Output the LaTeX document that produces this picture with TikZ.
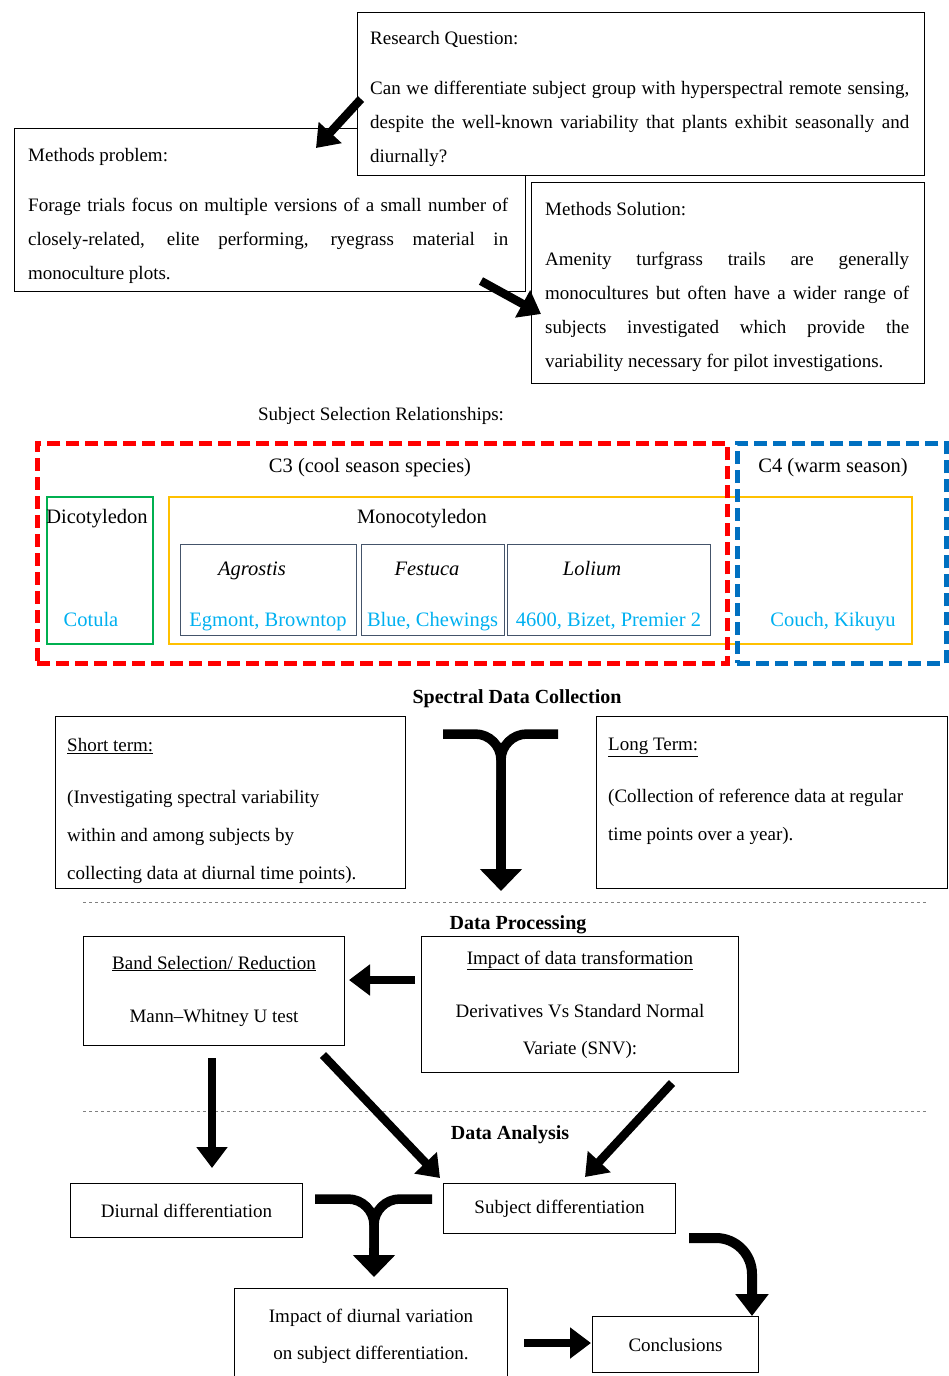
\documentclass[tikz,border=0pt]{standalone}
\usepackage{fontspec}
\setmainfont{Liberation Serif}
\usetikzlibrary{arrows.meta}

\definecolor{cthree}{HTML}{FF0000}
\definecolor{cfour}{HTML}{0070C0}
\definecolor{dicot}{HTML}{00B050}
\definecolor{monocot}{HTML}{FFC000}
\definecolor{genusline}{HTML}{44546A}
\definecolor{cultivar}{HTML}{00B0F0}

\begin{document}
\begin{tikzpicture}[x=1pt, y=-1pt,
    font=\fontsize{19}{34}\selectfont,
    box/.style={draw, line width=1pt, fill=white, anchor=north west, inner sep=0pt},
    txt/.style={anchor=north west, inner sep=0pt},
    head/.style={font=\fontsize{20}{24}\selectfont\bfseries},
    sel/.style={font=\fontsize{20.5}{24}\selectfont, anchor=base},
    group/.style={draw=#1, line width=4.5pt, dash pattern=on 13pt off 6pt, anchor=north west, inner sep=0pt},
    kind/.style={draw=#1, line width=2pt, anchor=north west, inner sep=0pt},
    fat/.style={line width=9.5pt, rounded corners=26pt},
    fatarrow/.style={line width=8.5pt, -{Triangle[length=21pt, width=30pt]}},
    forkarrow/.style={line width=9.5pt, -{Triangle[length=22pt, width=41pt]}},
    sep/.style={gray, dashed, line width=0.8pt}]
    \useasboundingbox (0,0) rectangle (948,1376);

    \node[box, minimum width=511pt, minimum height=163pt] (mpbox) at (14,128) {};
    \node[box, minimum width=567pt, minimum height=163pt] (rqbox) at (357,12) {};
    \node[box, minimum width=393pt, minimum height=201pt] (solbox) at (531,182) {};
    \node[txt, text width=539pt, align=justify] (rqtext) at (370,31)
        {Research Question:\\[16pt]
        Can we differentiate subject group with hyperspectral remote sensing,\linebreak
        despite the well-known variability that plants exhibit seasonally and\linebreak
        diurnally?};
    \node[txt, text width=480pt, align=justify] (mptext) at (28,148)
        {Methods problem:\\[16pt]
        Forage trials focus on multiple versions of a small number of\linebreak
        closely-related, elite performing, ryegrass material in\linebreak
        monoculture plots.};
    \node[txt, text width=364pt, align=justify] (soltext) at (545,202)
        {Methods Solution:\\[16pt]
        Amenity turfgrass trails are generally\linebreak
        monocultures but often have a wider range of\linebreak
        subjects investigated which provide the\linebreak
        variability necessary for pilot investigations.};
    \coordinate (rqout) at (361,99);
    \coordinate (mpin) at (316,148);
    \coordinate (mpout) at (481,281);
    \coordinate (solin) at (541,314);
    \draw[fatarrow] (rqout) -- (mpin);
    \draw[fatarrow] (mpout) -- (solin);

    \node (selhead) at (381,416) {Subject Selection Relationships:};
    \node[kind=dicot, minimum width=106pt, minimum height=147pt] (dicotbox) at (46,496) {};
    \node[kind=monocot, minimum width=743pt, minimum height=147pt] (monobox) at (168,496) {};
    \node[group=cthree, minimum width=690pt, minimum height=220pt] (cthreebox) at (35,441) {};
    \node[group=cfour, minimum width=209pt, minimum height=220pt] (cfourbox) at (735,441) {};
    \node[sel] (cthreelbl) at (370,472) {C3 (cool season species)};
    \node[sel] (cfourlbl) at (833,472) {C4 (warm season)};
    \node[sel] (dicotlbl) at (97,523) {Dicotyledon};
    \node[sel] (monolbl) at (422,523) {Monocotyledon};
    \node[sel, text=cultivar] (cotula) at (91,626) {Cotula};
    \node[sel, text=cultivar] (couch) at (833,626) {Couch, Kikuyu};
    \foreach \x/\w/\gx/\genus/\names in {180/176/252/Agrostis/{Egmont, Browntop},
        361/143/427/Festuca/{Blue, Chewings}, 507/203/592/Lolium/{4600, Bizet, Premier 2}} {
        \node[draw=genusline, line width=1.2pt, anchor=north west, minimum width=\w pt,
            minimum height=91pt] (box-\genus) at (\x,544) {};
        \node[sel] (lbl-\genus) at (\gx,575) {\itshape\genus};
        \node[sel, text=cultivar] (cv-\genus) at (\x+\w/2,626) {\names};
    }

    \node[head] (spechead) at (517,699) {Spectral Data Collection};
    \node[box, minimum width=350pt, minimum height=172pt] (shortbox) at (55,716) {};
    \node[box, minimum width=351pt, minimum height=172pt] (longbox) at (596,716) {};
    \node[txt, font=\fontsize{19}{38}\selectfont, align=left] (shorttext) at (67,738)
        {\underline{Short term:}\\[14pt]
        (Investigating spectral variability\\
        within and among subjects by\\
        collecting data at diurnal time points).};
    \node[txt, font=\fontsize{19}{38}\selectfont, align=left] (longtext) at (608,738)
        {\underline{Long Term:}\\[14pt]
        (Collection of reference data at regular\\
        time points over a year).};
    \coordinate (specl) at (443,734);
    \coordinate (specr) at (558,734);
    \coordinate (specj) at (501,790);
    \coordinate (spect) at (501,891);
    \draw[fat] (specl) -| (specj);
    \draw[fat] (specr) -| (specj);
    \draw[forkarrow] (specj) -- (spect);

    \draw[sep] (83,902) -- (928,902);
    \node[head] (prochead) at (518,925) {Data Processing};
    \node[box, minimum width=261pt, minimum height=109pt, align=center] (bandbox) at (83,936)
        {\underline{Band Selection/ Reduction}\\[19pt]Mann–Whitney U test};
    \node[box, minimum width=317pt, minimum height=136pt, align=center,
        font=\fontsize{19}{37}\selectfont] (transbox) at (421,936)
        {\underline{Impact of data transformation}\\[16pt]Derivatives Vs Standard Normal\\Variate (SNV):};
    \coordinate (transout) at (415,980);
    \coordinate (bandin) at (349,980);
    \draw[fatarrow] (transout) -- (bandin);

    \draw[sep] (83,1111) -- (928,1111);
    \node[head] (anahead) at (510,1135) {Data Analysis};
    \node[box, minimum width=232pt, minimum height=54pt] (diurnalbox) at (70,1183) {Diurnal differentiation};
    \node[box, minimum width=232pt, minimum height=50pt] (subjbox) at (443,1183) {Subject differentiation};
    \node[box, minimum width=273pt, minimum height=95pt, align=center,
        font=\fontsize{19}{37}\selectfont] (impactbox) at (234,1288)
        {Impact of diurnal variation\\on subject differentiation.};
    \node[box, minimum width=166pt, minimum height=56pt] (conclbox) at (592,1316) {Conclusions};
    \coordinate (banddown) at (212,1058);
    \coordinate (diurnalin) at (212,1168);
    \coordinate (bandslant) at (323,1055);
    \coordinate (subjinl) at (440,1178);
    \coordinate (transdown) at (672,1083);
    \coordinate (subjinr) at (585,1177);
    \draw[fatarrow] (banddown) -- (diurnalin);
    \draw[fatarrow] (bandslant) -- (subjinl);
    \draw[fatarrow] (transdown) -- (subjinr);
    \coordinate (diul) at (315,1199);
    \coordinate (diur) at (432,1199);
    \coordinate (diuj) at (374,1248);
    \coordinate (diut) at (374,1277);
    \draw[fat] (diul) -| (diuj);
    \draw[fat] (diur) -| (diuj);
    \draw[forkarrow] (diuj) -- (diut);
    \coordinate (impactout) at (524,1343);
    \coordinate (conclin) at (591,1343);
    \draw[fatarrow] (impactout) -- (conclin);
    \coordinate (subjout) at (689,1238);
    \coordinate (concltop) at (752,1316);
    \draw[line width=10pt, rounded corners=36pt, -{Triangle[length=22pt, width=32pt]}]
        (subjout) -| (concltop);
\end{tikzpicture}
\end{document}
